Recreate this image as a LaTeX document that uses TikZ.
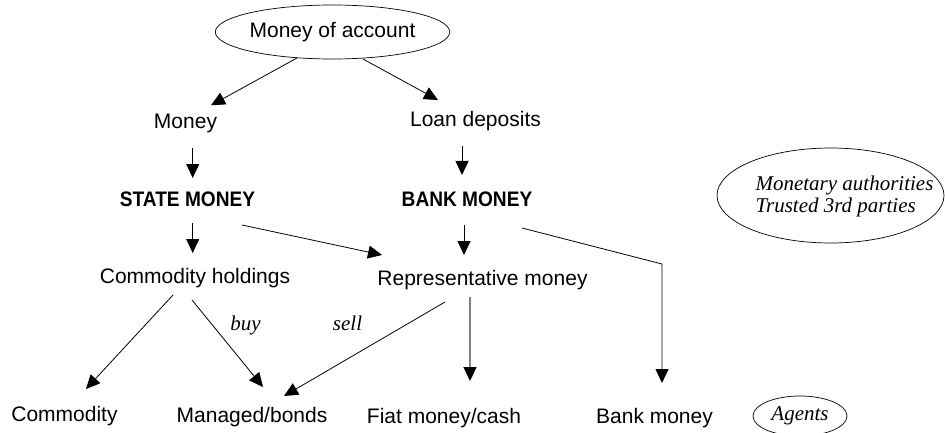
\documentclass[tikz,border=0pt]{standalone}
\usepackage{fontspec}
\setmainfont{Liberation Serif}
\setsansfont{Liberation Sans}
\newfontfamily\condbold{Liberation Sans}[FakeStretch=0.91]
\usetikzlibrary{arrows.meta,shapes.geometric}
\begin{document}
\begin{tikzpicture}[x=1pt,y=-1pt,
  lbl/.style={font=\sffamily\fontsize{21}{24}\selectfont, inner sep=0pt, anchor=base},
  caps/.style={font=\condbold\bfseries\fontsize{21}{24}\selectfont, inner sep=0pt, anchor=base},
  note/.style={font=\itshape\fontsize{21}{22}\selectfont, inner sep=0pt, anchor=base},
  oval/.style={draw, ellipse, line width=0.7pt, inner sep=0pt},
  arr/.style={line width=0.8pt, -{Triangle[length=14pt,width=13pt]}},
  greyarr/.style={draw=gray, line width=1.1pt, -{Triangle[length=14pt,width=13pt,color=black]}}
]
\useasboundingbox (0,0) rectangle (945,433);

% top: the unit of account
\node[oval, minimum width=215pt, minimum height=54pt,
      font=\sffamily\fontsize{21}{24}\selectfont] (moa) at (332.5,32) {Money of account};

% second and third rows
\node[lbl] (money) at (185.5,128.3) {Money};
\node[lbl] (loan)  at (475.5,126.7) {Loan deposits};
\node[caps] (state) at (187.5,206.7) {STATE MONEY};
\node[caps] (bank)  at (467,206.7) {BANK MONEY};

% fourth row
\node[lbl] (hold) at (195,283) {Commodity holdings};
\node[lbl] (rep)  at (482.5,285) {Representative money};

% labels on the trade arrows
\node[note] (buy)  at (245.5,330) {buy};
\node[note] (sell) at (347.5,330) {sell};

% bottom row
\node[lbl] (comm)    at (64.5,421.7) {Commodity};
\node[lbl] (managed) at (252,422) {Managed/bonds};
\node[lbl] (fiat)    at (444,423) {Fiat money/cash};
\node[lbl] (bmoney)  at (654.5,423) {Bank money};

% the two groups of actors
\node[oval, minimum width=227pt, minimum height=95pt,
      label={[note, anchor=center, align=left, xshift=14pt, yshift=-1pt]center:Monetary authorities\\Trusted 3rd parties}] (auth) at (830.5,195.5) {};
\node[oval, minimum width=94pt, minimum height=40pt,
      font=\itshape\fontsize{21}{22}\selectfont] (agents) at (800,416) {Agents};

% connectors
\draw[arr] ([shift={(-35.5,26)}]moa.center) -- ([shift={(25.5,-23)}]money.base);
\draw[arr] ([shift={(30.5,27)}]moa.center) -- ([shift={(-37.5,-26.7)}]loan.base);
\draw[arr] ([shift={(7.2,20)}]money.base) -- ([shift={(5.2,-28.7)}]state.base);
\draw[arr] ([shift={(-13.5,19.3)}]loan.base) -- ([shift={(-5,-31.7)}]bank.base);
\draw[arr] ([shift={(5.2,16.3)}]state.base) -- ([shift={(-2.3,-30)}]hold.base);
\draw[arr] ([shift={(54.5,18.3)}]state.base) -- ([shift={(-100.5,-30)}]rep.base);
\draw[arr] ([shift={(-3,18.3)}]bank.base) -- ([shift={(-18.5,-30)}]rep.base);
\draw[arr] ([shift={(55,21.3)}]bank.base) -- ([shift={(7.5,-159)}]bmoney.base)
           -- ([shift={(7.5,-40)}]bmoney.base);
\draw[arr] ([shift={(-22,12)}]hold.base) -- ([shift={(21.5,-32.7)}]comm.base);
\draw[arr] ([shift={(-3,17)}]hold.base) -- ([shift={(11,-35)}]managed.base);
\draw[arr] ([shift={(-37.5,17)}]rep.base) -- ([shift={(32,-26)}]managed.base);
\draw[greyarr] ([shift={(-12.5,12)}]rep.base) -- ([shift={(26,-42)}]fiat.base);
\end{tikzpicture}
\end{document}
